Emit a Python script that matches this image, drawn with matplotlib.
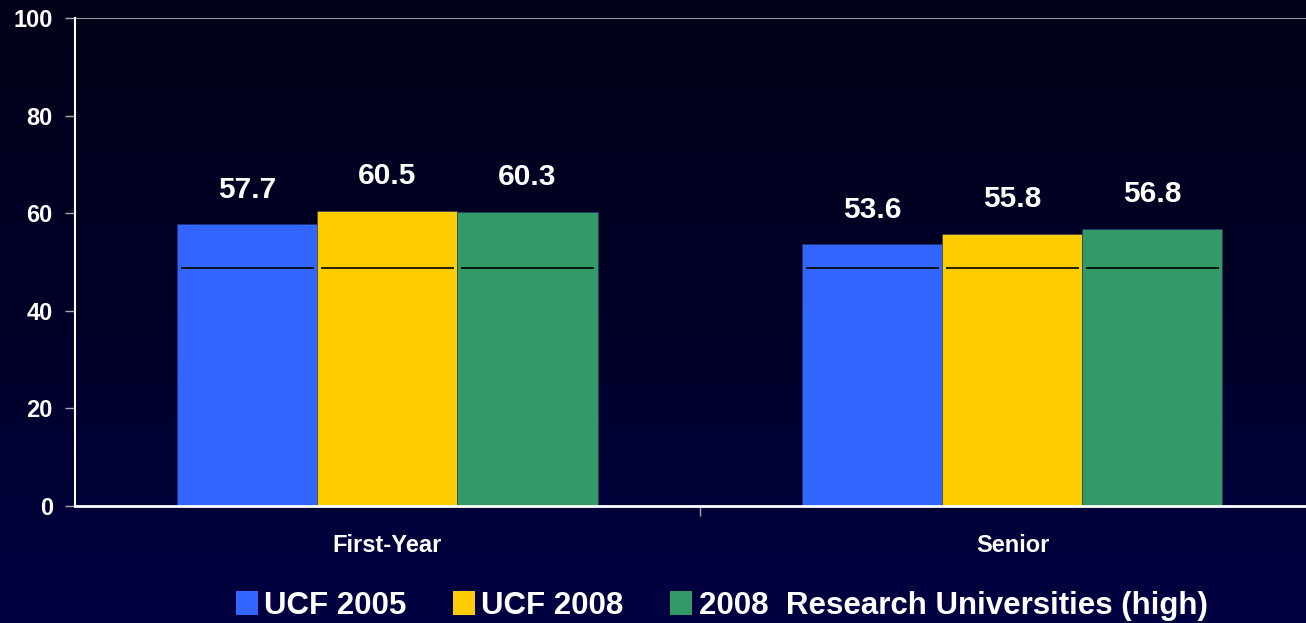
import numpy as np
import matplotlib
matplotlib.use("Agg")
import matplotlib.pyplot as plt
from matplotlib.colors import LinearSegmentedColormap
from matplotlib.patches import Patch

categories = ["First-Year", "Senior"]
series_names = ["UCF 2005", "UCF 2008", "2008  Research Universities (high)"]
ucf_2005 = [57.7, 53.6]
ucf_2008 = [60.5, 55.8]
research_high = [60.3, 56.8]
benchmark = [48.8, 48.8]
yticks = [0, 20, 40, 60, 80, 100]

colors = ["#3366FF", "#FFCC00", "#339966"]
plt.rcParams["font.family"] = ["Liberation Sans", "DejaVu Sans"]
plt.rcParams["font.weight"] = "bold"

fig = plt.figure(figsize=(13.06, 6.23), dpi=100)

# background gradient
bg = fig.add_axes([0, 0, 1, 1], zorder=-10)
grad = LinearSegmentedColormap.from_list("bg", ["#03031A", "#000028", "#000042"])
bg.imshow(np.linspace(0, 1, 256).reshape(-1, 1), aspect="auto", cmap=grad,
          extent=[0, 1, 0, 1])
bg.set_axis_off()

W, H = 1306, 623
left, right, top, bottom = 75, 1325, 18, 506
ax = fig.add_axes([left / W, 1 - bottom / H, (right - left) / W, (bottom - top) / H])
ax.patch.set_alpha(0)

x = np.arange(len(categories))
width = 0.224
all_series = [ucf_2005, ucf_2008, research_high]
for i, (vals, c) in enumerate(zip(all_series, colors)):
    pos = x + (i - 1) * width
    ax.bar(pos, vals, width, color=c, edgecolor="#22336a", linewidth=0.4, zorder=2)
    ax.hlines(benchmark, pos - width / 2 + 0.005, pos + width / 2 - 0.005,
              color="black", linewidth=1.2, zorder=3)
    for p, v in zip(pos, vals):
        ax.annotate(f"{v}", (p, v), xytext=(0, 15), textcoords="offset points",
                    ha="center", va="bottom", color="white", fontsize=21.5,
                    fontweight="bold")

ax.set_xlim(-0.5, 1.5)
ax.set_ylim(0, 100)
ax.set_yticks(yticks)
ax.set_yticklabels([str(t) for t in yticks], fontsize=17, fontweight="bold", color="white")
ax.axhline(100, color="#BBBBBB", linewidth=1.2, zorder=1)

ax.set_xticks([0.5], minor=False)
ax.set_xticklabels([""])
ax.tick_params(axis="x", which="major", length=7, color="#AAAAAA", width=1)
ax.set_xticks(x, minor=True)
ax.set_xticklabels(categories, minor=True, fontsize=17, fontweight="bold", color="white")
ax.tick_params(axis="x", which="minor", length=0, pad=20)
ax.tick_params(axis="y", length=7, color="#AAAAAA", width=1, pad=9)

for s in ["top", "right"]:
    ax.spines[s].set_visible(False)
ax.spines["left"].set_color("white")
ax.spines["bottom"].set_color("white")
ax.spines["left"].set_linewidth(1.5)
ax.spines["bottom"].set_linewidth(2)

handles = [Patch(facecolor=c, edgecolor="none") for c in colors]
fig.legend(handles, series_names, loc="center", bbox_to_anchor=(0.5525, 1 - 606 / H),
           ncol=3, frameon=False, labelcolor="white",
           handlelength=0.7, handleheight=0.8, handletextpad=0.2, columnspacing=1.5,
           prop={"weight": "bold", "size": 22.5})

fig.savefig("out.png", dpi=100)
